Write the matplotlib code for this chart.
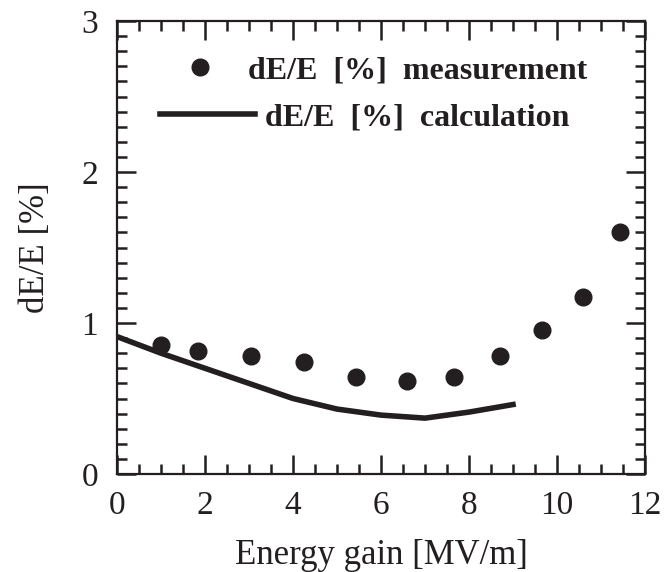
import matplotlib.pyplot as plt
from matplotlib.ticker import MultipleLocator

plt.rcParams['font.family'] = ['Liberation Serif', 'DejaVu Serif']

# measured energy spread
meas_x = [1.00, 1.85, 3.05, 4.26, 5.44, 6.58, 7.67, 8.70, 9.67, 10.58, 11.43]
meas_y = [0.854, 0.815, 0.781, 0.744, 0.640, 0.616, 0.640, 0.781, 0.956, 1.170, 1.601]

# calculated energy spread
calc_x = [0, 1, 2, 3, 4, 5, 6, 7, 8, 9]
calc_y = [0.91, 0.80, 0.70, 0.60, 0.50, 0.43, 0.39, 0.37, 0.41, 0.46]

ink = '#231f20'

fig = plt.figure(figsize=(6.66, 5.72), dpi=100)
ax = fig.add_axes([117 / 666, 1 - 474 / 572, 528 / 666, 453 / 572])

pts, = ax.plot(meas_x, meas_y, 'o', color=ink, markersize=12, linestyle='none',
               label='dE/E  [%]  measurement')
calc, = ax.plot(calc_x, calc_y, '-', color=ink, linewidth=4,
                label='dE/E  [%]  calculation')

ax.set_xlim(0, 12)
ax.set_ylim(0, 3)
ax.xaxis.set_major_locator(MultipleLocator(2))
ax.xaxis.set_minor_locator(MultipleLocator(0.5))
ax.yaxis.set_major_locator(MultipleLocator(1))
ax.yaxis.set_minor_locator(MultipleLocator(0.1))
ax.tick_params(which='both', direction='in', top=True, right=True,
               width=1.8, color=ink, labelsize=24, labelcolor=ink)
ax.tick_params(which='major', length=13.5)
ax.tick_params(which='minor', length=7.5)
ax.tick_params(axis='x', which='major', pad=12)
ax.tick_params(axis='y', which='major', pad=13.5)
for s in ax.spines.values():
    s.set_linewidth(1.6)
    s.set_color(ink)

ax.set_xlabel('Energy gain [MV/m]', fontsize=25, color=ink, labelpad=13)
ax.set_ylabel('dE/E [%]', fontsize=25, color=ink, labelpad=21)

fs = 23
leg1 = ax.legend(handles=[pts], loc='center left', bbox_to_anchor=(0.127, 0.89),
                 frameon=False, borderpad=0, borderaxespad=0, numpoints=1,
                 handlelength=1.0, handletextpad=1.0,
                 prop={'size': fs, 'weight': 'bold'})
for t in leg1.get_texts():
    t.set_color(ink)
ax.add_artist(leg1)
leg2 = ax.legend(handles=[calc], loc='center left', bbox_to_anchor=(0.081, 0.786),
                 frameon=False, borderpad=0, borderaxespad=0,
                 handlelength=2.98, handletextpad=0.31,
                 prop={'size': fs, 'weight': 'bold'})
for t in leg2.get_texts():
    t.set_color(ink)

fig.savefig('out.png', dpi=100)
